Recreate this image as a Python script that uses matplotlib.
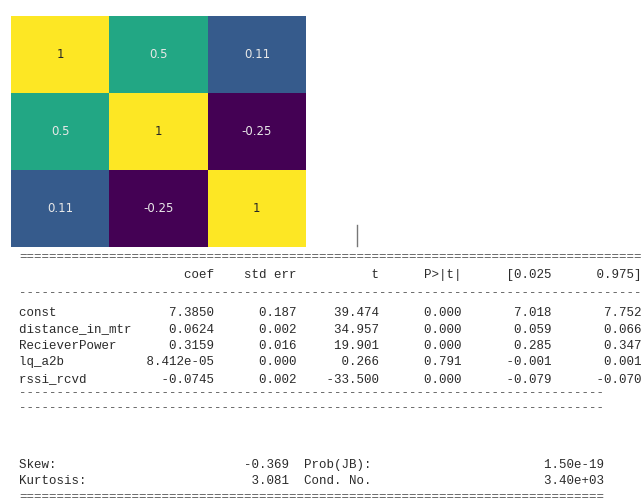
import matplotlib.pyplot as plt
import numpy as np

# correlation matrix of the three predictors
corr = [[1.0, 0.5, 0.11],
        [0.5, 1.0, -0.25],
        [0.11, -0.25, 1.0]]

# OLS coefficient table
names = ['const', 'distance_in_mtr', 'RecieverPower', 'lq_a2b', 'rssi_rcvd']
coef = [7.3850, 0.0624, 0.3159, 8.412e-05, -0.0745]
std_err = [0.187, 0.002, 0.016, 0.000, 0.002]
t_val = [39.474, 34.957, 19.901, 0.266, -33.500]
p_val = [0.000, 0.000, 0.000, 0.791, 0.000]
ci_low = [7.018, 0.059, 0.285, -0.001, -0.079]
ci_high = [7.752, 0.066, 0.347, 0.001, -0.070]

skew = -0.369
kurtosis = 3.081
prob_jb = 1.50e-19
cond_no = 3.40e+03

W, H = 644, 504


def fmt_coef(v):
    if v != 0 and abs(v) < 1e-3:
        return '%.3e' % v
    return '%.4f' % v


def build_lines():
    head = (' ' * 16 + 'coef'.rjust(10) + 'std err'.rjust(11) + 't'.rjust(11)
            + 'P>|t|'.rjust(11) + '[0.025'.rjust(12) + '0.975]'.rjust(12))
    rows = []
    for i, n in enumerate(names):
        rows.append(n.ljust(16) + fmt_coef(coef[i]).rjust(10)
                    + ('%.3f' % std_err[i]).rjust(11)
                    + ('%.3f' % t_val[i]).rjust(11)
                    + ('%.3f' % p_val[i]).rjust(11)
                    + ('%.3f' % ci_low[i]).rjust(12)
                    + ('%.3f' % ci_high[i]).rjust(12))
    skew_line = ('Skew:'.ljust(30) + ('%.3f' % skew).rjust(6) + '  '
                 + 'Prob(JB):'.ljust(32) + ('%.2e' % prob_jb).rjust(8))
    kurt_line = ('Kurtosis:'.ljust(30) + ('%.3f' % kurtosis).rjust(6) + '  '
                 + 'Cond. No.'.ljust(32) + ('%.2e' % cond_no).rjust(8))
    return head, rows, skew_line, kurt_line


fig = plt.figure(figsize=(W / 100, H / 100), dpi=100)

# heatmap in the upper left corner
x0, x1, y0, y1 = 11, 306, 16, 247
hax = fig.add_axes([x0 / W, 1 - y1 / H, (x1 - x0) / W, (y1 - y0) / H])
data = np.array(corr)
hax.imshow(data, cmap='viridis', vmin=-0.25, vmax=1, aspect='auto')
for i in range(3):
    for j in range(3):
        v = data[i, j]
        col = '#262626' if v > 0.7 else '#e8e8e8'
        hax.text(j, i, '%g' % v, ha='center', va='center', color=col,
                 fontsize=8.5)
hax.set_xticks([])
hax.set_yticks([])
for s in hax.spines.values():
    s.set_visible(False)

# text panel over the whole figure, pixel coordinates
ax = fig.add_axes([0, 0, 1, 1])
ax.set_xlim(0, W)
ax.set_ylim(H, 0)
ax.axis('off')
ax.plot([357, 357], [225, 246], color='#777777', lw=1)

head, rows, skew_line, kurt_line = build_lines()
mono = dict(family='Liberation Mono', fontsize=9, va='center', ha='left')
tx = 19
ax.text(tx, 257, '=' * 83, color='#555555', **mono)
ax.text(tx, 275, head, color='#2b2b2b', **mono)
ax.text(tx, 293, '-' * 83, color='#555555', **mono)
for k, line in enumerate(rows):
    ax.text(tx, 313 + k * 16.5, line, color='#2b2b2b', **mono)
ax.text(tx, 393, '-' * 78, color='#555555', **mono)
ax.text(tx, 408, '-' * 78, color='#555555', **mono)
ax.text(tx, 465, skew_line, color='#2b2b2b', **mono)
ax.text(tx, 481, kurt_line, color='#2b2b2b', **mono)
ax.text(tx, 497, '=' * 78, color='#555555', **mono)

fig.savefig('out.png', dpi=100)
